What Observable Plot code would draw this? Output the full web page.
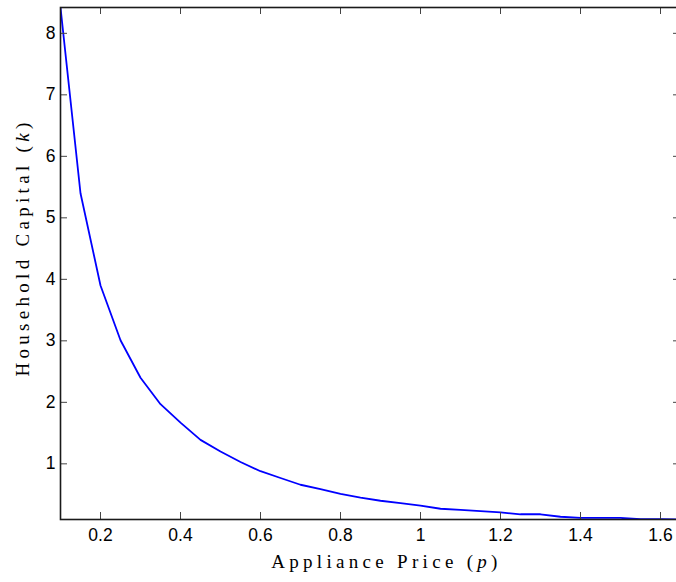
<!DOCTYPE html>
<html>
<head>
<meta charset="utf-8">
<script src="https://cdn.jsdelivr.net/npm/d3@7"></script>
<script src="https://cdn.jsdelivr.net/npm/@observablehq/plot@0.6"></script>
<style>
  html, body { margin: 0; padding: 0; background: #fff; overflow: hidden; }
  #chart svg { overflow: hidden; display: block; }
</style>
</head>
<body>
<div id="chart"></div>
<script>
// Appliance price p
const price = [0.10, 0.15, 0.20, 0.25, 0.30, 0.35, 0.40, 0.45, 0.50, 0.55, 0.60,
  0.65, 0.70, 0.75, 0.80, 0.85, 0.90, 0.95, 1.00, 1.05, 1.10, 1.15, 1.20,
  1.25, 1.30, 1.35, 1.40, 1.45, 1.50, 1.55, 1.60, 1.65];
// Household capital k
const capital = [8.42, 5.40, 3.90, 3.01, 2.40, 1.97, 1.67, 1.39, 1.20, 1.03, 0.88,
  0.77, 0.66, 0.59, 0.51, 0.45, 0.40, 0.36, 0.32, 0.27, 0.25, 0.23, 0.21,
  0.18, 0.18, 0.14, 0.12, 0.12, 0.12, 0.10, 0.10, 0.095];
const xTicks = [0.2, 0.4, 0.6, 0.8, 1.0, 1.2, 1.4, 1.6];
const yTicks = [1, 2, 3, 4, 5, 6, 7, 8];
const xLabel = "Appliance Price (p)";
const yLabel = "Household Capital (k)";

const data = price.map((p, i) => ({p, k: capital[i]}));
const tickColor = "#444";

const W = 676, H = 582, mL = 60, mR = -4, mT = 7, mB = 63;
const frameW = W - mL - mR, frameH = H - mT - mB;
const tickLen = 7;

const chart = Plot.plot({
  width: W,
  height: H,
  marginLeft: mL,
  marginRight: mR,
  marginTop: mT,
  marginBottom: mB,
  style: {fontFamily: "'Liberation Sans', Arial, sans-serif", fontSize: "17.5px", color: "#000", background: "#fff"},
  x: {domain: [0.1, 1.65]},
  y: {domain: [0.095, 8.42]},
  marks: [
    Plot.line(data, {x: "p", y: "k", stroke: "#0000ff", strokeWidth: 1.8, clip: true}),
    // inward ticks on all four sides
    Plot.tickX(xTicks, {x: d => d, insetTop: frameH - tickLen, stroke: tickColor, strokeWidth: 1}),
    Plot.tickX(xTicks, {x: d => d, insetBottom: frameH - tickLen, stroke: tickColor, strokeWidth: 1}),
    Plot.tickY(yTicks, {y: d => d, insetRight: frameW - tickLen, stroke: tickColor, strokeWidth: 1}),
    Plot.tickY(yTicks, {y: d => d, insetLeft: frameW - tickLen, stroke: tickColor, strokeWidth: 1}),
    Plot.frame({stroke: "#1a1a1a", strokeWidth: 1.6}),
    Plot.axisX(xTicks, {tickSize: 0, tickPadding: 9, label: null, tickFormat: d => String(+d.toFixed(1)), fontSize: 17.5}),
    Plot.axisY(yTicks, {tickSize: 0, tickPadding: 5, label: null, tickFormat: d => String(d), fontSize: 17.5}),
    Plot.text([xLabel], {frameAnchor: "bottom", textAnchor: "middle", lineAnchor: "middle", dy: 42, dx: 16, fontSize: 19, fill: "#000", className: "xlab"}),
    Plot.text([yLabel], {frameAnchor: "left", textAnchor: "middle", lineAnchor: "middle", rotate: -90, dx: -38, dy: -16, fontSize: 19, fill: "#000", className: "ylab"})
  ]
});

document.getElementById("chart").appendChild(chart);

// Typeset axis labels with an italic variable, like the LaTeX original
function typeset(cls) {
  d3.select(chart).selectAll(`.${cls} text`).each(function() {
    const t = d3.select(this);
    const s = t.text();
    const m = s.match(/^(.*\()(.)(\))$/);
    if (!m) return;
    t.text(null)
      .style("font-family", "'Liberation Serif', 'DejaVu Serif', serif")
      .style("letter-spacing", "4.3px");
    t.append("tspan").text(m[1]);
    t.append("tspan").text(m[2]).style("font-style", "italic");
    t.append("tspan").text(m[3]);
  });
}
typeset("xlab");
typeset("ylab");
</script>
</body>
</html>
